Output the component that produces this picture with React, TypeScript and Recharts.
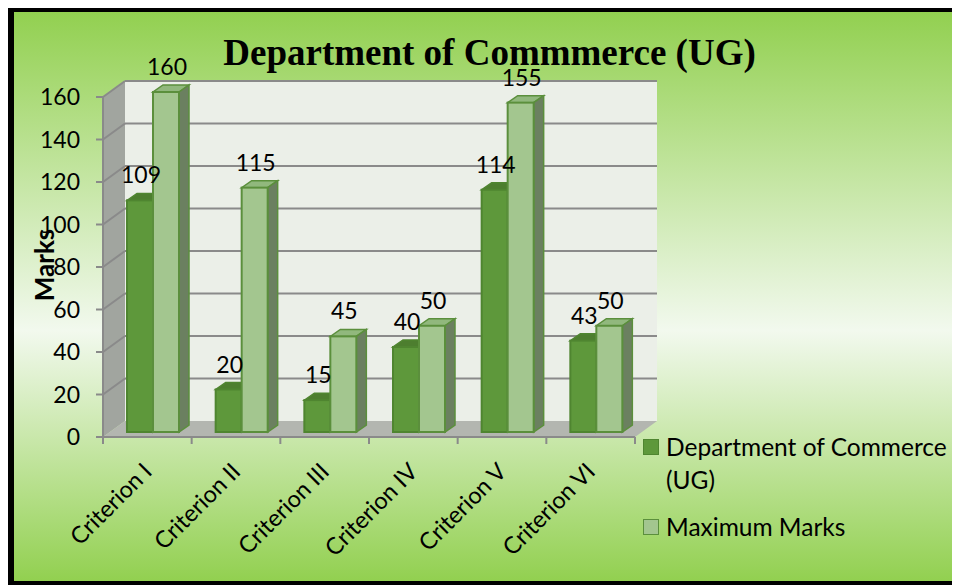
import { Bar, BarChart, LabelList, Legend, ReferenceArea, XAxis, YAxis } from "recharts";

const categories = ["Criterion I", "Criterion II", "Criterion III", "Criterion IV", "Criterion V", "Criterion VI"];
const deptMarks = [109, 20, 15, 40, 114, 43];
const maxMarks = [160, 115, 45, 50, 155, 50];
const yTicks = [0, 20, 40, 60, 80, 100, 120, 140, 160];
const seriesNames = ["Department of Commerce (UG)", "Maximum Marks"];
const title = "Department of Commmerce (UG)";
const yLabel = "Marks";

const data = categories.map((name, i) => ({ name, dept: deptMarks[i], max: maxMarks[i] }));

// 3d look
const DX = 22; // wall depth
const DY = 16;
const SX = 6; // bars sit a bit behind the front plane
const SY = -5;
const BDX = 10; // bar depth
const BDY = 7;

const CHART_W = 946;
const CHART_H = 569;
const MARGIN = { top: 85, right: 325, bottom: 44, left: 29 };
const PLOT_W = CHART_W - MARGIN.left - MARGIN.right - 60;
const BAND = PLOT_W / categories.length;

const FONT = "Lato, 'Open Sans', sans-serif";

const DARK = { front: "#5e983b", top: "#4d7e2f", side: "#4a6e35", stroke: "#4f8530" };
const LIGHT = { front: "#a3c68f", top: "#91b87d", side: "#6b8060", stroke: "#5b8f3c" };

function Walls(props: any) {
  const { x, y, width, height } = props;
  const bottom = y + height;
  return (
    <g>
      <polygon
        points={`${x},${bottom} ${x},${y} ${x + DX},${y - DY} ${x + DX},${bottom - DY}`}
        fill="#a1a59f"
      />
      <rect x={x + DX} y={y - DY} width={width} height={height} fill="#ebefe8" />
      <polygon
        points={`${x},${bottom} ${x + width},${bottom} ${x + width + DX},${bottom - DY} ${x + DX},${bottom - DY}`}
        fill="#b3b6b0"
      />
      {yTicks
        .filter((t) => t > 0)
        .map((t) => {
          const yy = bottom - (t / yTicks[yTicks.length - 1]) * height;
          return (
            <g key={t}>
              <line x1={x} y1={yy} x2={x + DX} y2={yy - DY} stroke="#8a8a8a" strokeWidth={2} />
              <line x1={x + DX} y1={yy - DY} x2={x + DX + width} y2={yy - DY} stroke="#8a8a8a" strokeWidth={2} />
            </g>
          );
        })}
    </g>
  );
}

function makeBox(c: typeof DARK) {
  return (props: any) => {
    const { x, y, width, height } = props;
    if (!height) return <g />;
    const fx = x + SX;
    const fy = y + SY;
    return (
      <g>
        <polygon
          points={`${fx},${fy} ${fx + width},${fy} ${fx + width + BDX},${fy - BDY} ${fx + BDX},${fy - BDY}`}
          fill={c.top}
          stroke={c.stroke}
          strokeWidth={1.5}
        />
        <polygon
          points={`${fx + width},${fy} ${fx + width + BDX},${fy - BDY} ${fx + width + BDX},${fy + height - BDY} ${fx + width},${fy + height}`}
          fill={c.side}
          stroke={c.stroke}
          strokeWidth={1.5}
        />
        <rect x={fx} y={fy} width={width} height={height} fill={c.front} stroke={c.stroke} strokeWidth={2} />
      </g>
    );
  };
}

const DarkBox = makeBox(DARK);
const LightBox = makeBox(LIGHT);

function ValueLabel(props: any) {
  const { x, y, width, value } = props;
  return (
    <text x={x + width / 2 + 7} y={y - 22} textAnchor="middle" fontFamily={FONT} fontSize={23} fill="#000">
      {value}
    </text>
  );
}

function CategoryTick(props: any) {
  const { x, y, payload, index } = props;
  const left = x - BAND / 2;
  const axisY = y - 9;
  const ax = x + 6;
  const ay = axisY + 36;
  return (
    <g>
      <line x1={left} y1={axisY} x2={left} y2={axisY + 7} stroke="#8a8a8a" strokeWidth={2} />
      {index === categories.length - 1 && (
        <line x1={x + BAND / 2} y1={axisY} x2={x + BAND / 2} y2={axisY + 7} stroke="#8a8a8a" strokeWidth={2} />
      )}
      <text
        x={ax}
        y={ay}
        textAnchor="end"
        transform={`rotate(-45 ${ax} ${ay})`}
        fontFamily={FONT}
        fontSize={23.5}
        fill="#000"
      >
        {payload.value}
      </text>
    </g>
  );
}

function MarksLabel(props: any) {
  const { viewBox } = props;
  const cx = viewBox.x + 1;
  const cy = viewBox.y + viewBox.height / 2 - 2;
  return (
    <text
      x={cx}
      y={cy}
      transform={`rotate(-90 ${cx} ${cy})`}
      textAnchor="middle"
      dominantBaseline="central"
      fontFamily={FONT}
      fontWeight="bold"
      fontSize={26}
      fill="#000"
    >
      {yLabel}
    </text>
  );
}

function LegendBox(props: any) {
  const { payload } = props;
  return (
    <div style={{ display: "flex", flexDirection: "column", gap: 14, fontFamily: FONT, fontSize: 24.5, color: "#000" }}>
      {(payload || []).map((entry: any, i: number) => (
        <div key={i} style={{ display: "flex", alignItems: "flex-start" }}>
          <span
            style={{
              width: 14,
              height: 14,
              marginTop: 9,
              marginRight: 7,
              flex: "none",
              background: i === 0 ? DARK.front : LIGHT.front,
              border: `1px solid ${i === 0 ? DARK.stroke : LIGHT.stroke}`,
            }}
          />
          <span style={{ lineHeight: "33px" }}>{entry.value}</span>
        </div>
      ))}
    </div>
  );
}

export default function App() {
  return (
    <div
      style={{
        marginTop: -2,
        width: 952,
        height: 581,
        boxSizing: "border-box",
        borderLeft: "6px solid #000",
        borderTop: "6px solid #000",
        borderBottom: "6px solid #000",
        background: "linear-gradient(180deg, #92d050 0%, #f2f9ee 56%, #92d050 100%)",
        position: "relative",
        overflow: "hidden",
      }}
    >
      <div
        style={{
          position: "absolute",
          left: 0,
          top: 22,
          width: 951,
          textAlign: "center",
          fontFamily: "'Liberation Serif', 'Times New Roman', serif",
          fontWeight: "bold",
          fontSize: 37,
          lineHeight: "37px",
          color: "#000",
          whiteSpace: "nowrap",
        }}
      >
        {title}
      </div>
      <BarChart width={CHART_W} height={CHART_H} data={data} margin={MARGIN} barGap={0} barSize={26}>
        <ReferenceArea y1={0} y2={160} ifOverflow="visible" shape={<Walls />} />
        <XAxis
          dataKey="name"
          interval={0}
          height={100}
          tickSize={7}
          tickMargin={2}
          tickLine={false}
          axisLine={{ stroke: "#8a8a8a", strokeWidth: 2 }}
          tick={<CategoryTick />}
        />
        <YAxis
          width={60}
          domain={[0, 160]}
          ticks={yTicks}
          interval={0}
          tickSize={7}
          tickMargin={16}
          tickLine={{ stroke: "#8a8a8a", strokeWidth: 2 }}
          axisLine={{ stroke: "#8a8a8a", strokeWidth: 2 }}
          tick={{ fontFamily: FONT, fontSize: 23, fill: "#000" }}
          label={<MarksLabel />}
        />
        <Legend
          layout="vertical"
          align="center"
          verticalAlign="middle"
          wrapperStyle={{ left: 629, top: 418, width: 318 }}
          content={<LegendBox />}
        />
        <Bar dataKey="dept" name={seriesNames[0]} fill={DARK.front} shape={<DarkBox />} isAnimationActive={false}>
          <LabelList dataKey="dept" content={<ValueLabel />} />
        </Bar>
        <Bar dataKey="max" name={seriesNames[1]} fill={LIGHT.front} shape={<LightBox />} isAnimationActive={false}>
          <LabelList dataKey="max" content={<ValueLabel />} />
        </Bar>
      </BarChart>
    </div>
  );
}
